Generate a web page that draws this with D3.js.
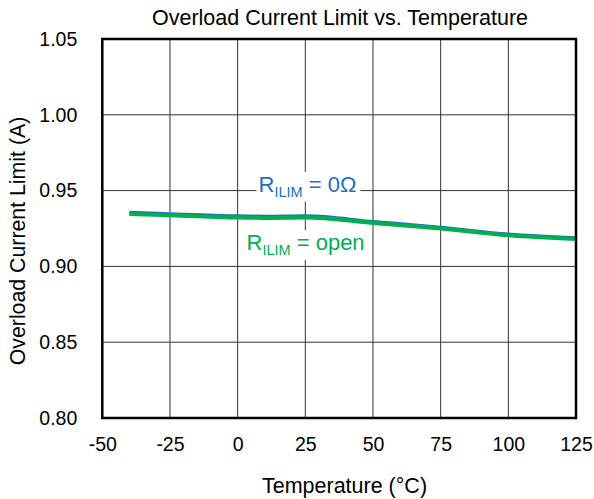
<!DOCTYPE html>
<html><head><meta charset="utf-8">
<script src="https://cdn.jsdelivr.net/npm/d3@7"></script>
<style>body{margin:0;background:#fff}svg{display:block;font-family:"Liberation Sans",Arial,sans-serif}</style>
</head><body>
<script>
const temps = [-40, -25, 0, 10, 25, 50, 75, 100, 125];
const blueVals = [0.9354, 0.9344, 0.9330, 0.9328, 0.9331, 0.9293, 0.9255, 0.9210, 0.9185];
const greenVals = [0.9345, 0.9338, 0.9322, 0.9320, 0.9323, 0.9287, 0.9250, 0.9205, 0.9180];
const xTicks = [-50, -25, 0, 25, 50, 75, 100, 125];
const yTicks = [0.80, 0.85, 0.90, 0.95, 1.00, 1.05];

const W = 594, H = 499;
const m = {l: 102.3, r: 576, t: 39, b: 418};
const FONT = "Liberation Sans, Arial, sans-serif";
const svg = d3.select("body").append("svg").attr("width", W).attr("height", H);
const x = d3.scaleLinear().domain([-50, 125]).range([m.l, m.r]);
const y = d3.scaleLinear().domain([0.80, 1.05]).range([m.b, m.t]);

// grid
svg.append("g").selectAll("line").data(xTicks).join("line")
  .attr("x1", d => x(d)).attr("x2", d => x(d)).attr("y1", m.t).attr("y2", m.b)
  .attr("stroke", "#333").attr("stroke-width", 1);
svg.append("g").selectAll("line").data(yTicks).join("line")
  .attr("x1", m.l).attr("x2", m.r).attr("y1", d => y(d)).attr("y2", d => y(d))
  .attr("stroke", "#333").attr("stroke-width", 1);

// label backgrounds
svg.append("rect").attr("x", 256.5).attr("y", 172).attr("width", 104).attr("height", 29.5).attr("fill", "#fff");
svg.append("rect").attr("x", 245).attr("y", 230).attr("width", 117).attr("height", 30).attr("fill", "#fff");

// lines
const line = vals => d3.line().x((d, i) => x(temps[i])).y(d => y(d)).curve(d3.curveMonotoneX)(vals);
svg.append("path").attr("d", line(blueVals)).attr("fill", "none").attr("stroke", "#1f6fc0").attr("stroke-width", 4);
svg.append("path").attr("d", line(greenVals)).attr("fill", "none").attr("stroke", "#00b050").attr("stroke-width", 4);

// border
svg.append("rect").attr("x", m.l).attr("y", m.t).attr("width", m.r - m.l).attr("height", m.b - m.t)
  .attr("fill", "none").attr("stroke", "#000").attr("stroke-width", 2.5);

// axes labels
const xa = svg.append("g").attr("transform", `translate(0,${m.b})`)
  .call(d3.axisBottom(x).tickValues(xTicks).tickSize(0).tickFormat(d => String(d)));
xa.select(".domain").remove();
xa.selectAll("text").attr("y", 32.5).attr("dy", 0).attr("font-size", 19.5).attr("fill", "#000").attr("font-family", FONT);
const ya = svg.append("g").attr("transform", `translate(${m.l},0)`)
  .call(d3.axisLeft(y).tickValues(yTicks).tickSize(0).tickPadding(25).tickFormat(d3.format(".2f")));
ya.select(".domain").remove();
ya.selectAll("text").attr("font-size", 19.5).attr("fill", "#000").attr("font-family", FONT);

svg.append("text").attr("x", 340).attr("y", 24.5).attr("text-anchor", "middle").attr("font-size", 21.5)
  .text("Overload Current Limit vs. Temperature");
svg.append("text").attr("x", 344.5).attr("y", 493).attr("text-anchor", "middle").attr("font-size", 21.5)
  .text("Temperature (°C)");
svg.append("text").attr("transform", "translate(25,241) rotate(-90)").attr("text-anchor", "middle").attr("font-size", 21.3)
  .text("Overload Current Limit (A)");

// series labels
const t1 = svg.append("text").attr("x", 258.5).attr("y", 191.7).attr("font-size", 22).attr("fill", "#1f6fc0");
t1.append("tspan").text("R");
t1.append("tspan").attr("font-size", 14.5).attr("dy", 5).text("ILIM");
t1.append("tspan").attr("dy", -5).text(" = 0Ω");
const t2 = svg.append("text").attr("x", 246.5).attr("y", 250).attr("font-size", 22).attr("fill", "#00b050");
t2.append("tspan").text("R");
t2.append("tspan").attr("font-size", 14.5).attr("dy", 5).text("ILIM");
t2.append("tspan").attr("dy", -5).text(" = open");
</script>
</body></html>
